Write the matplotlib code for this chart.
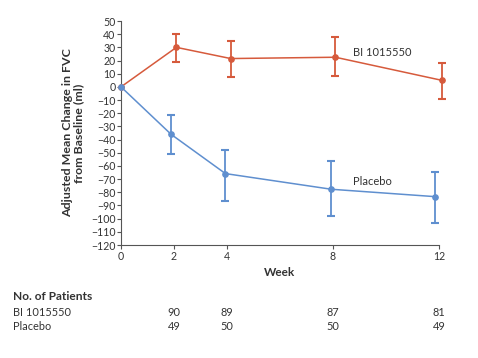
import matplotlib
matplotlib.use("Agg")
import matplotlib.pyplot as plt

plt.rcParams['font.family'] = ['Lato', 'DejaVu Sans']

weeks = [0, 2, 4, 8, 12]
bi_x = [0, 2.09, 4.14, 8.09, 12.1]
bi_mean = [0, 30, 21.5, 22.5, 5]
bi_upper = [0, 40.5, 35, 38, 18.5]
bi_lower = [0, 19, 7.5, 8.3, -9.4]

pl_x = [0, 1.89, 3.94, 7.94, 11.85]
pl_mean = [0, -36, -65.8, -77.7, -83.3]
pl_upper = [0, -21, -47.6, -56.5, -64.6]
pl_lower = [0, -51, -86.3, -98, -103.3]

n_weeks = [2, 4, 8, 12]
n_bi = [90, 89, 87, 81]
n_pl = [49, 50, 50, 49]

yticks = list(range(-120, 51, 10))

red = '#d65a3c'
blue = '#5f8fcf'
txt = '#333333'

fig = plt.figure(figsize=(4.78, 3.58), dpi=100)
ax = fig.add_axes([121/478, 1-245/358, (439-121)/478, (245-21)/358])

def draw(x, m, up, lo, c):
    ax.plot(x, m, color=c, lw=1.1, marker='o', ms=3.8, clip_on=False, zorder=3)
    yerr = [[mm - l for mm, l in zip(m[1:], lo[1:])], [u - mm for mm, u in zip(m[1:], up[1:])]]
    ax.errorbar(x[1:], m[1:], yerr=yerr, fmt='none', ecolor=c, elinewidth=1.3,
                capsize=2.6, capthick=1.5, clip_on=False, zorder=3)

draw(bi_x, bi_mean, bi_upper, bi_lower, red)
draw(pl_x, pl_mean, pl_upper, pl_lower, blue)

ax.text(8.75, 26, 'BI 1015550', fontsize=8, color=txt, va='center', ha='left')
ax.text(8.75, -72, 'Placebo', fontsize=8, color=txt, va='center', ha='left')

ax.set_xlim(0, 12)
ax.set_ylim(-120, 50)
ax.set_xticks(weeks)
ax.set_yticks(yticks)
ax.set_yticklabels([str(v).replace('-', '\u2212') for v in yticks])
for s in ['top', 'right']:
    ax.spines[s].set_visible(False)
for s in ['left', 'bottom']:
    ax.spines[s].set_color('#555555')
    ax.spines[s].set_linewidth(0.8)
ax.tick_params(axis='both', labelsize=7.6, colors='#555555', labelcolor=txt,
               length=3, width=0.8, pad=1)
ax.set_xlabel('Week', fontsize=8.5, fontweight='bold', color=txt, labelpad=4)

fig.text(73/478, 1-133/358, 'Adjusted Mean Change in FVC\nfrom Baseline (ml)',
         rotation=90, ha='center', va='center', fontsize=8.9, fontweight='bold',
         color=txt, linespacing=1.0)

fig.text(13/478, 1-297/358, 'No. of Patients', fontsize=8.6, fontweight='bold',
         color=txt, va='center', ha='left')
fig.text(13/478, 1-313/358, 'BI 1015550', fontsize=7.9, color=txt, va='center', ha='left')
fig.text(13/478, 1-327/358, 'Placebo', fontsize=7.9, color=txt, va='center', ha='left')

for w, a, b in zip(n_weeks, n_bi, n_pl):
    xf = (121 + w * (439-121)/12) / 478
    fig.text(xf, 1-313/358, str(a), fontsize=7.9, color=txt, va='center', ha='center')
    fig.text(xf, 1-327/358, str(b), fontsize=7.9, color=txt, va='center', ha='center')

fig.savefig('out.png', dpi=100)
